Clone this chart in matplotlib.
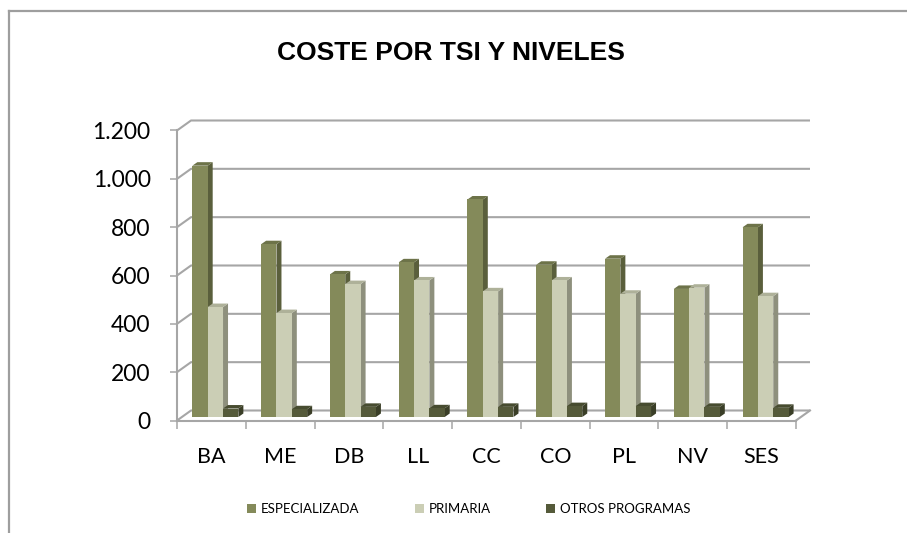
import matplotlib
matplotlib.use("Agg")
import matplotlib.pyplot as plt
from matplotlib.lines import Line2D
from matplotlib.patches import Polygon

# ---- data ----
categories = ["BA", "ME", "DB", "LL", "CC", "CO", "PL", "NV", "SES"]
series_names = ["ESPECIALIZADA", "PRIMARIA", "OTROS PROGRAMAS"]
especializada = [1040, 715, 590, 640, 900, 630, 655, 530, 785]
primaria = [455, 430, 550, 565, 520, 565, 510, 535, 500]
otros = [35, 32, 42, 36, 42, 45, 45, 42, 38]
y_ticks = [0, 200, 400, 600, 800, 1000, 1200]
y_tick_labels = ["0", "200", "400", "600", "800", "1.000", "1.200"]
title = "COSTE POR TSI Y NIVELES"

# ---- style ----
front_cols = ["#848A5A", "#CBCEB5", "#555A3A"]
side_cols = ["#5A5F3C", "#8E907D", "#3A3E27"]
top_cols = ["#6D7349", "#AEB199", "#474C30"]
grid_col = "#A6A6A6"

W, H = 907, 533
fig = plt.figure(figsize=(W / 100, H / 100), dpi=100)

x0, x1 = 177, 796
y0, y1 = 420.5, 130.5
ax = fig.add_axes([x0 / W, (H - y0) / H, (x1 - x0) / W, (y0 - y1) / H])
ax.set_xlim(0, len(categories))
ax.set_ylim(0, 1200)

FX = (x1 - x0) / len(categories)   # px per category unit
FY = (y0 - y1) / 1200.0             # px per value unit


def d(px_dx, px_dy):
    return px_dx / FX, px_dy / FY


Dx, Dy = d(14, 10)      # wall depth
bx, by = d(4.9, 3.5)    # bar plane offset
sx, sy = d(5, 3.5)      # bar depth

# back wall gridlines + left diagonals
for yv in y_ticks:
    ax.plot([0, Dx, len(categories) + Dx], [yv, yv + Dy, yv + Dy],
            color=grid_col, lw=1.5, clip_on=False, zorder=1,
            solid_capstyle="butt")
# right floor diagonal
ax.plot([len(categories), len(categories) + Dx], [0, Dy], color=grid_col,
        lw=1.5, clip_on=False, zorder=1)

# bars
bw = 0.223
start = 0.152
series = [especializada, primaria, otros]
handles = []
for i in range(len(categories)):
    for s, vals in enumerate(series):
        v = vals[i]
        xl = i + start + s * bw + bx
        xr = xl + bw
        yb = by
        yt = by + v
        side = Polygon([(xr, yb), (xr + sx, yb + sy), (xr + sx, yt + sy), (xr, yt)],
                       closed=True, facecolor=side_cols[s], edgecolor="none",
                       clip_on=False, zorder=3)
        top = Polygon([(xl, yt), (xl + sx, yt + sy), (xr + sx, yt + sy), (xr, yt)],
                      closed=True, facecolor=top_cols[s], edgecolor="none",
                      clip_on=False, zorder=3)
        ax.add_patch(side)
        ax.add_patch(top)
        b = ax.bar(xl, v, width=bw, bottom=yb, align="edge", color=front_cols[s],
                   edgecolor="none", zorder=3, clip_on=False)
        if i == 0:
            handles.append(b)

# spines
for sp in ["top", "right"]:
    ax.spines[sp].set_visible(False)
for sp in ["left", "bottom"]:
    ax.spines[sp].set_color(grid_col)
    ax.spines[sp].set_linewidth(1.5)
ax.set_facecolor("none")

ax.set_yticks(y_ticks)
ax.set_yticklabels(y_tick_labels, family="Lato", fontsize=16.5)
ax.tick_params(axis="y", direction="out", length=5, width=1.1, color=grid_col, pad=14)

ax.set_xticks(range(len(categories) + 1))
ax.set_xticklabels([])
ax.tick_params(axis="x", which="major", direction="out", length=6, width=1.1, color=grid_col)
ax.set_xticks([i + 0.5 for i in range(len(categories))], minor=True)
ax.set_xticklabels(categories, minor=True, family="Lato", fontsize=15.5)
ax.tick_params(axis="x", which="minor", length=0, pad=19)

# title
fig.text(451 / W, 1 - 53 / H, title, ha="center", va="center",
         fontsize=19, fontweight="bold", family="Liberation Sans")

# legend
fig.legend(handles, series_names, loc="center", bbox_to_anchor=(468.5 / W, 1 - 509 / H),
           ncol=3, frameon=False, prop={"family": "Lato", "size": 9.5},
           handlelength=0.7, handleheight=0.7, handletextpad=0.35,
           columnspacing=4.2)

# outer frame
fig.add_artist(Line2D([9.3 / W, 9.3 / W], [0, 1 - 11 / H], transform=fig.transFigure,
                      color="#9E9E9E", lw=1.6))
fig.add_artist(Line2D([9.3 / W, 1], [1 - 11 / H, 1 - 11 / H], transform=fig.transFigure,
                      color="#9E9E9E", lw=1.6))

fig.savefig("out.png", dpi=100)
